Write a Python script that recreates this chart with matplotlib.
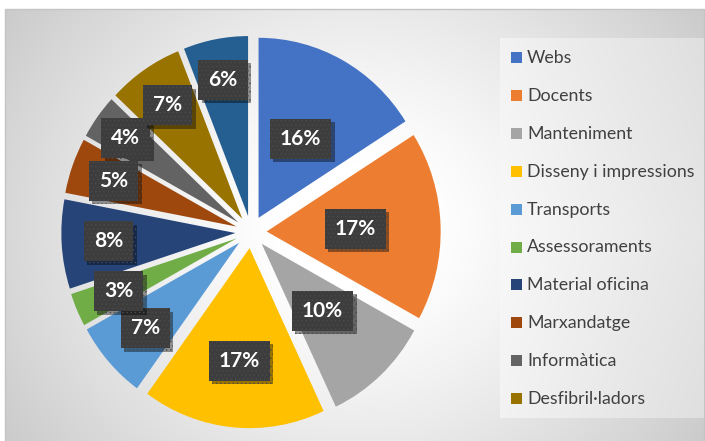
import numpy as np
import matplotlib
matplotlib.use("Agg")
import matplotlib.pyplot as plt
import matplotlib.patheffects as pe
from matplotlib.patches import Rectangle

# despeses per partida (%)
categories = ["Webs", "Docents", "Manteniment", "Disseny i impressions", "Transports",
              "Assessoraments", "Material oficina", "Marxandatge", "Informàtica",
              "Desfibril·ladors", "Altres"]
values = [16, 17, 10, 17, 7, 3, 8, 5, 4, 7, 6]
colors = ["#4472C4", "#ED7D31", "#A5A5A5", "#FFC000", "#5B9BD5", "#70AD47",
          "#264478", "#9E480E", "#636363", "#997300", "#255E91"]
# how far out each percentage box sits (fraction of radius)
label_dist = [0.50, 0.51, 0.51, 0.63, 0.72, 0.74, 0.73, 0.75, 0.80, 0.76, 0.77]
n_legend = 10

W, H = 705, 441
fig = plt.figure(figsize=(W / 100, H / 100), dpi=100)
fig.patch.set_facecolor("white")

# background layer in pixel coordinates
bg = fig.add_axes([0, 0, 1, 1])
bg.set_xlim(0, W)
bg.set_ylim(H, 0)
bg.axis("off")

# chart area: radial grey gradient
yy, xx = np.mgrid[9:H, 5:W]
d = np.hypot(xx - 355, (yy - 225) * 1.1)
g = np.clip((d - 70) / 360, 0, 1)
shade = 1.0 - 0.21 * g ** 1.2
bg.imshow(np.dstack([shade] * 3), extent=(5, W, H, 9), interpolation="bilinear", zorder=0)
bg.add_patch(Rectangle((5, 9), W - 6, H - 8, fill=False, ec="#c4c4c4", lw=1, zorder=1))

# legend panel
ly, lx = np.mgrid[38:418, 500:704]
gl = np.clip((lx - 500) / 204, 0, 1) * 0.75 + np.clip(np.abs(ly - 230) / 190, 0, 1) * 0.25
lshade = 0.975 - 0.10 * gl
bg.imshow(np.dstack([lshade] * 3), extent=(500, 704, 418, 38), interpolation="bilinear", zorder=1)

# pie axes, centre at (251, 232) px
cx, cy = 251, 232
sx, sy = 174, 180
lim = 1.3
ax = fig.add_axes([(cx - lim * sx) / W, (H - cy - lim * sy) / H, 2 * lim * sx / W, 2 * lim * sy / H])
ax.patch.set_alpha(0)
explode = [0.09] * len(values)
wedges, _ = ax.pie(values, colors=colors, explode=explode, startangle=90, counterclock=False,
                   wedgeprops=dict(linewidth=0))
ax.set_aspect("auto")
ax.set_xlim(-lim, lim)
ax.set_ylim(-lim, lim)
ax.axis("off")

plt.rcParams["hatch.linewidth"] = 0.5
for w, v, dist, ex in zip(wedges, values, label_dist, explode):
    ang = np.deg2rad((w.theta1 + w.theta2) / 2)
    x = (ex + dist) * np.cos(ang)
    y = (ex + dist) * np.sin(ang)
    t = ax.text(x, y, f"{v}%", ha="center", va="center", color="white",
                fontsize=15, fontweight="bold", family=["Lato", "DejaVu Sans"],
                bbox=dict(boxstyle="square,pad=0.48", fc="#3d3d3d", ec="#4a4a4a",
                          lw=0, hatch="...."), zorder=5)
    t.get_bbox_patch().set_path_effects([
        pe.withSimplePatchShadow(offset=(2.5, -2.5), shadow_rgbFace="black", alpha=0.4),
        pe.Normal()])

# legend entries
for i in range(n_legend):
    y = 57.5 + i * 37.9
    bg.add_patch(Rectangle((511, y - 5.5), 11, 11, fc=colors[i], ec="none", zorder=3))
    bg.text(527, y + 0.5, categories[i], ha="left", va="center", fontsize=12.8,
            color="#404040", family=["Lato", "DejaVu Sans"], zorder=3)

fig.savefig("out.png", dpi=100)
